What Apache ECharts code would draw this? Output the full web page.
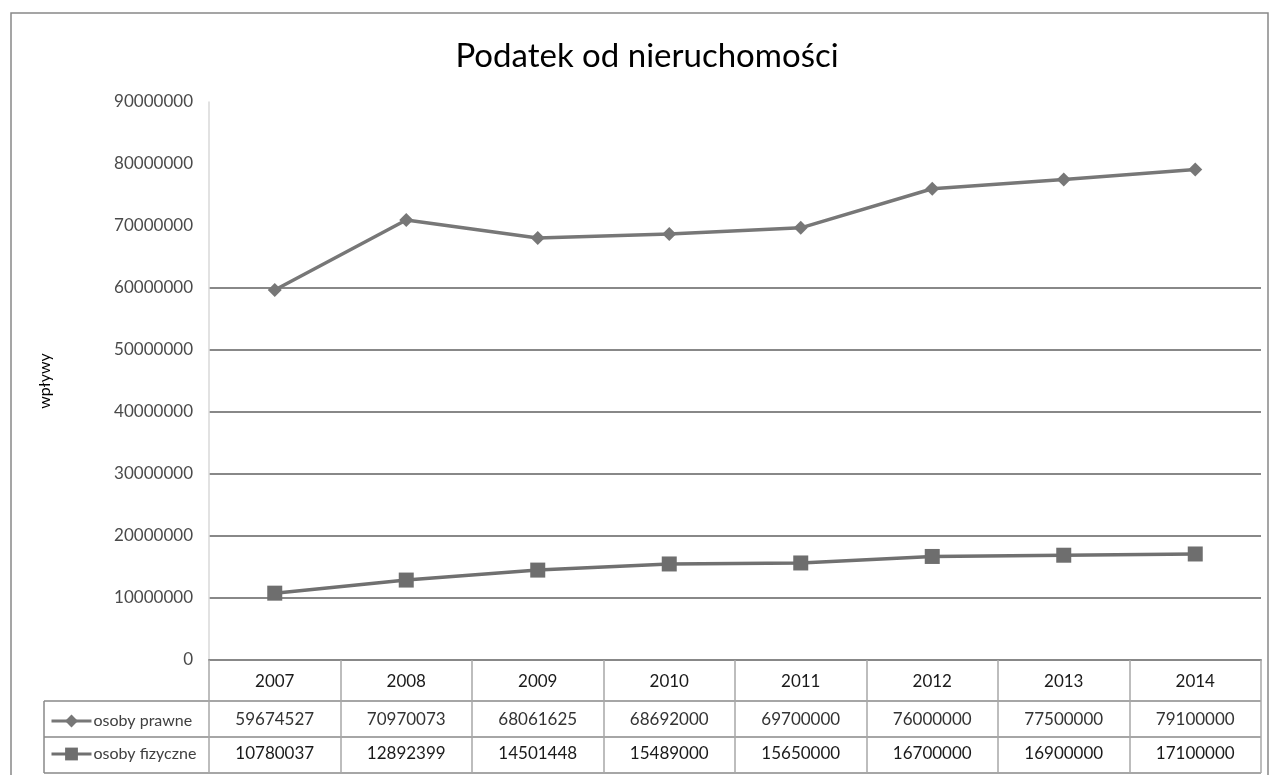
<!DOCTYPE html>
<html>
<head>
<meta charset="utf-8">
<script src="https://cdn.jsdelivr.net/npm/echarts@6/dist/echarts.min.js"></script>
<style>
html,body{margin:0;padding:0;background:#fff;}
#chart{width:1269px;height:775px;}
</style>
</head>
<body>
<div id="chart"></div>
<script>
// ---- data ----
const title = 'Podatek od nieruchomości';
const yAxisName = 'wpływy';
const years = ['2007', '2008', '2009', '2010', '2011', '2012', '2013', '2014'];
const seriesNames = ['osoby prawne', 'osoby fizyczne'];
const osobyPrawne = [59674527, 70970073, 68061625, 68692000, 69700000, 76000000, 77500000, 79100000];
const osobyFizyczne = [10780037, 12892399, 14501448, 15489000, 15650000, 16700000, 16900000, 17100000];
const yMin = 0, yMax = 90000000, yStep = 10000000;

// ---- layout ----
const W = 1269, H = 775;
const GL = 209, GR = 1261, GT = 102, GB = 660;
const ROW1 = 701, ROW2 = 737, TBOT = 773, TLEFT = 44;
const FONT = 'Lato';
const lineGray = '#888888';

const chart = echarts.init(document.getElementById('chart'), null, {renderer: 'canvas'});

// grid line colors: lines appear only up to 60M in the reference
const gridColors = [];
for (let v = yMin; v <= yMax; v += yStep) gridColors.push(v <= 60000000 ? lineGray : 'rgba(0,0,0,0)');

const option = {
  backgroundColor: '#fff',
  animation: false,
  title: {
    text: title,
    left: 642, top: 35, textAlign: 'center',
    textStyle: {fontFamily: FONT, fontSize: 33, fontWeight: 'normal', color: '#000'}
  },
  legend: {
    orient: 'vertical',
    left: 45, top: 708,
    itemWidth: 40, itemHeight: 16, itemGap: 17,
    data: seriesNames,
    lineStyle: {width: 3},
    textStyle: {fontFamily: FONT, fontSize: 16, lineHeight: 16, color: '#404040', padding: [0, 0, 0, -3]}
  },
  grid: {left: GL, right: W - GR, top: GT, bottom: H - GB, containLabel: false},
  xAxis: [
    {
      type: 'category', data: years, boundaryGap: true, position: 'bottom',
      axisLine: {lineStyle: {color: lineGray, width: 2}},
      axisTick: {show: true, inside: false, length: TBOT - GB, lineStyle: {color: '#a8a8a8', width: 1.5}},
      axisLabel: {margin: 22, verticalAlign: 'middle', fontFamily: FONT, fontSize: 17, color: '#1a1a1a'},
      splitLine: {show: false}
    },
    {
      type: 'category', data: years, boundaryGap: true, position: 'bottom', offset: 720 - GB,
      axisLine: {show: false}, axisTick: {show: false},
      axisLabel: {margin: 0, verticalAlign: 'middle', fontFamily: FONT, fontSize: 17, color: '#333',
        formatter: (v, i) => String(osobyPrawne[i])}
    },
    {
      type: 'category', data: years, boundaryGap: true, position: 'bottom', offset: 754 - GB,
      axisLine: {show: false}, axisTick: {show: false},
      axisLabel: {margin: 0, verticalAlign: 'middle', fontFamily: FONT, fontSize: 17, color: '#1a1a1a',
        formatter: (v, i) => String(osobyFizyczne[i])}
    }
  ],
  yAxis: {
    type: 'value', min: yMin, max: yMax, interval: yStep,
    name: yAxisName, nameLocation: 'middle', nameRotate: 90, nameGap: GL - 53,
    nameTextStyle: {fontFamily: FONT, fontSize: 16, color: '#000'},
    axisLine: {show: true, lineStyle: {color: '#d9d9d9', width: 1.5}},
    axisTick: {show: false},
    axisLabel: {margin: 16, fontFamily: FONT, fontSize: 17, color: '#4a4a4a', formatter: v => String(v)},
    splitLine: {show: true, lineStyle: {color: gridColors, width: 2}}
  },
  series: [
    {
      name: seriesNames[0], type: 'line', data: osobyPrawne, xAxisIndex: 0,
      symbol: 'diamond', symbolSize: 14,
      lineStyle: {color: '#777777', width: 3.5},
      itemStyle: {color: '#777777'}
    },
    {
      name: seriesNames[1], type: 'line', data: osobyFizyczne, xAxisIndex: 0,
      symbol: 'rect', symbolSize: 15,
      lineStyle: {color: '#707070', width: 3.5},
      itemStyle: {color: '#6e6e6e'}
    }
  ],
  graphic: [
    {type: 'rect', shape: {x: 11, y: 13, width: 1257, height: 800}, style: {fill: 'none', stroke: lineGray, lineWidth: 1.5}, silent: true},
    {type: 'line', shape: {x1: TLEFT, y1: ROW1, x2: GR, y2: ROW1}, style: {stroke: lineGray, lineWidth: 1.5}},
    {type: 'line', shape: {x1: TLEFT, y1: ROW2, x2: GR, y2: ROW2}, style: {stroke: lineGray, lineWidth: 1.5}},
    {type: 'line', shape: {x1: TLEFT, y1: TBOT, x2: GR, y2: TBOT}, style: {stroke: lineGray, lineWidth: 1.5}},
    {type: 'line', shape: {x1: TLEFT, y1: ROW1, x2: TLEFT, y2: TBOT}, style: {stroke: lineGray, lineWidth: 1.5}}
  ]
};
chart.setOption(option);
</script>
</body>
</html>
